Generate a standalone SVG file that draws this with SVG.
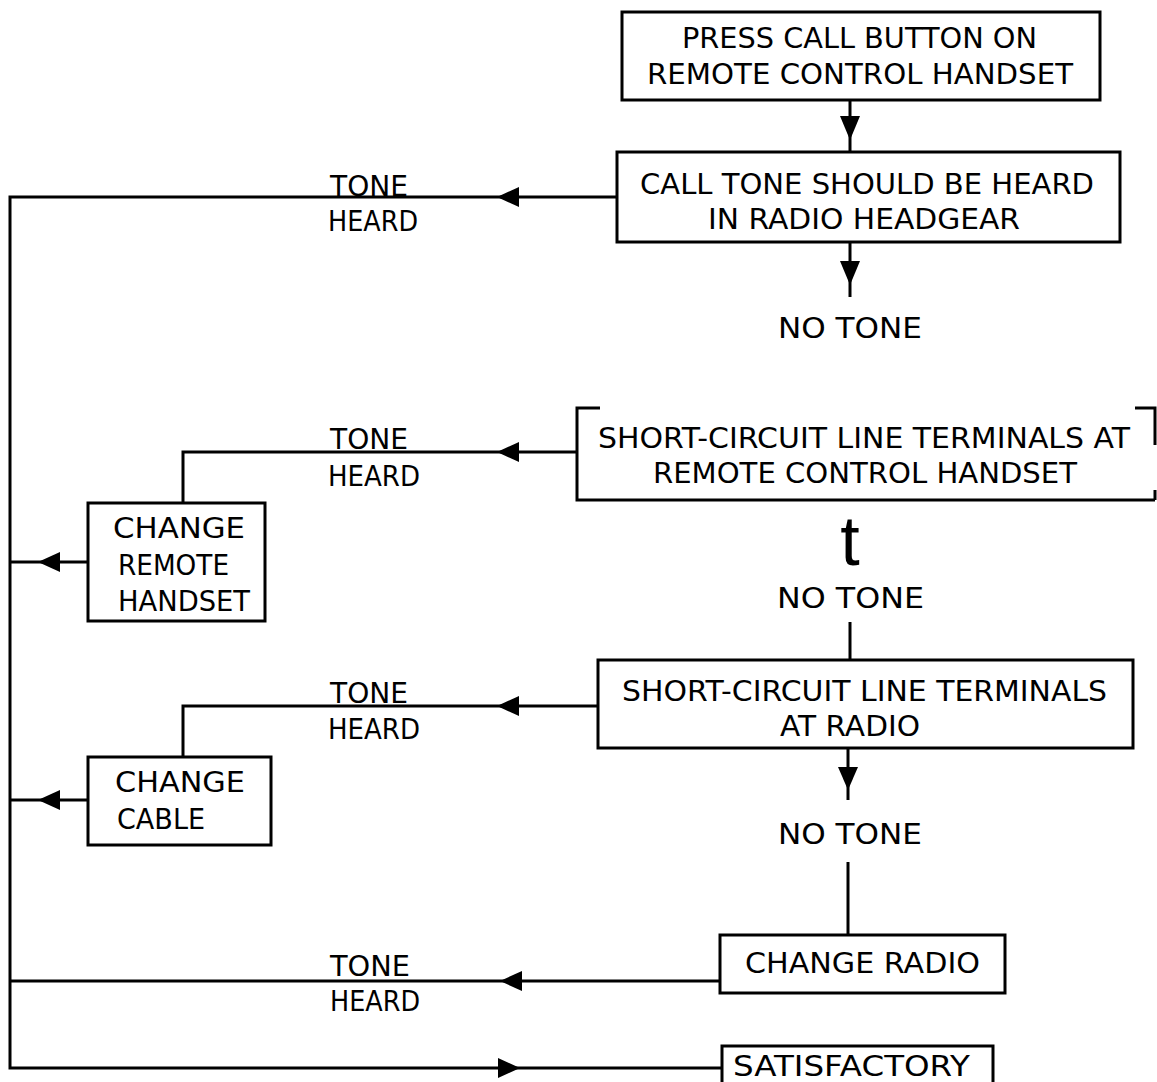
<svg xmlns="http://www.w3.org/2000/svg" width="1157" height="1082" viewBox="0 0 1157 1082">
<style>
.bx{fill:#fff;stroke:#000;stroke-width:3}
.ln{fill:none;stroke:#000;stroke-width:3}
.ah{fill:#000;stroke:none}
text{font-family:"DejaVu Sans","Liberation Sans",sans-serif;font-size:29px;fill:#000}
.c{text-anchor:middle}
</style>
<rect width="1157" height="1082" fill="#fff"/>
<g id="connectors">
<path class="ln" d="M850,100 V152"/>
<polygon class="ah" points="840,116 860,116 850,140"/>
<path class="ln" d="M617,197 H10 V1068 H722"/>
<polygon class="ah" points="519,187 519,207 497,197"/>
<path class="ln" d="M850,242 V297"/>
<polygon class="ah" points="840,261 860,261 850,285"/>
<path class="ln" d="M577,452 H183 V503"/>
<polygon class="ah" points="519,442 519,462 497,452"/>
<path class="ln" d="M88,562 H10"/>
<polygon class="ah" points="60,552 60,572 38,562"/>
<path class="ln" d="M850,622 V660"/>
<path class="ln" d="M598,706 H183 V757"/>
<polygon class="ah" points="519,696 519,716 497,706"/>
<path class="ln" d="M88,800 H10"/>
<polygon class="ah" points="60,790 60,810 38,800"/>
<path class="ln" d="M848,748 V800"/>
<polygon class="ah" points="838,767 858,767 848,790"/>
<path class="ln" d="M848,862 V935"/>
<path class="ln" d="M720,981 H10"/>
<polygon class="ah" points="522,971 522,991 500,981"/>
<polygon class="ah" points="498,1058 498,1078 520,1068"/>
</g>
<g id="n1">
<rect class="bx" x="622" y="12" width="478" height="88"/>
<text x="682" y="48" textLength="355" lengthAdjust="spacingAndGlyphs">PRESS CALL BUTTON ON</text>
<text x="647" y="84" textLength="426" lengthAdjust="spacingAndGlyphs">REMOTE CONTROL HANDSET</text>
</g>
<g id="n2">
<rect class="bx" x="617" y="152" width="503" height="90"/>
<text x="640" y="194" textLength="454" lengthAdjust="spacingAndGlyphs">CALL TONE SHOULD BE HEARD</text>
<text x="708" y="229" textLength="312" lengthAdjust="spacingAndGlyphs">IN RADIO HEADGEAR</text>
</g>
<g id="l1">
<text x="330" y="196" textLength="78" lengthAdjust="spacingAndGlyphs">TONE</text>
<text x="328" y="231" textLength="90" lengthAdjust="spacingAndGlyphs">HEARD</text>
<text x="778" y="338" textLength="144" lengthAdjust="spacingAndGlyphs">NO TONE</text>
</g>
<g id="n3">
<path class="ln" d="M600,408 H577 V500 H1155 M1135,408 H1155 V445 M1155,490 V500"/>
<text x="598" y="448" textLength="532" lengthAdjust="spacingAndGlyphs">SHORT-CIRCUIT LINE TERMINALS AT</text>
<text x="653" y="483" textLength="424" lengthAdjust="spacingAndGlyphs">REMOTE CONTROL HANDSET</text>
</g>
<g id="l2">
<text x="330" y="449" textLength="78" lengthAdjust="spacingAndGlyphs">TONE</text>
<text x="328" y="486" textLength="92" lengthAdjust="spacingAndGlyphs">HEARD</text>
<text x="850" y="565" class="c" style="font-size:70px;font-family:'Liberation Sans',sans-serif">t</text>
<text x="777" y="608" textLength="147" lengthAdjust="spacingAndGlyphs">NO TONE</text>
</g>
<g id="n4">
<rect class="bx" x="88" y="503" width="177" height="118"/>
<text x="113" y="538" textLength="132" lengthAdjust="spacingAndGlyphs">CHANGE</text>
<text x="118" y="575" textLength="111" lengthAdjust="spacingAndGlyphs">REMOTE</text>
<text x="118" y="611" textLength="132" lengthAdjust="spacingAndGlyphs">HANDSET</text>
</g>
<g id="n5">
<rect class="bx" x="598" y="660" width="535" height="88"/>
<text x="622" y="701" textLength="485" lengthAdjust="spacingAndGlyphs">SHORT-CIRCUIT LINE TERMINALS</text>
<text x="780" y="736" textLength="140" lengthAdjust="spacingAndGlyphs">AT RADIO</text>
</g>
<g id="l3">
<text x="330" y="703" textLength="78" lengthAdjust="spacingAndGlyphs">TONE</text>
<text x="328" y="739" textLength="92" lengthAdjust="spacingAndGlyphs">HEARD</text>
<text x="778" y="844" textLength="144" lengthAdjust="spacingAndGlyphs">NO TONE</text>
</g>
<g id="n6">
<rect class="bx" x="88" y="757" width="183" height="88"/>
<text x="115" y="792" textLength="130" lengthAdjust="spacingAndGlyphs">CHANGE</text>
<text x="117" y="829" textLength="88" lengthAdjust="spacingAndGlyphs">CABLE</text>
</g>
<g id="n7">
<rect class="bx" x="720" y="935" width="285" height="58"/>
<text x="745" y="973" textLength="235" lengthAdjust="spacingAndGlyphs">CHANGE RADIO</text>
</g>
<g id="l4">
<text x="330" y="976" textLength="80" lengthAdjust="spacingAndGlyphs">TONE</text>
<text x="330" y="1011" textLength="90" lengthAdjust="spacingAndGlyphs">HEARD</text>
</g>
<g id="n8">
<path class="bx" d="M722,1090 V1046 H993 V1090"/>
<text x="733" y="1076" style="font-size:28px" textLength="237" lengthAdjust="spacingAndGlyphs">SATISFACTORY</text>
</g>
</svg>
